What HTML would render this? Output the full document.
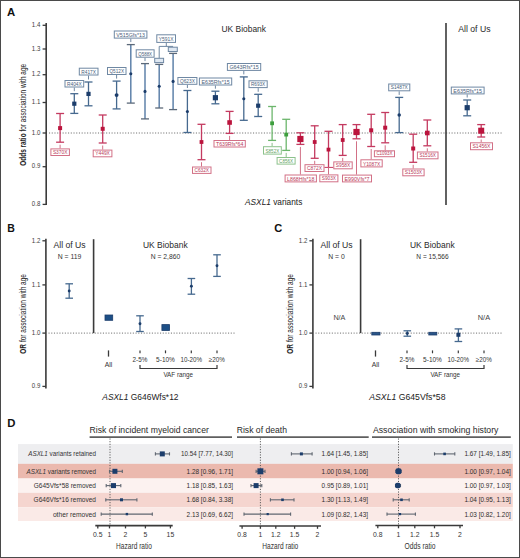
<!DOCTYPE html>
<html><head><meta charset="utf-8"><style>
html,body{margin:0;padding:0;background:#fff;}
svg{display:block;font-family:"Liberation Sans", sans-serif;}
</style></head><body>
<svg width="520" height="558" viewBox="0 0 520 558">
<rect x="0" y="0" width="520" height="558" fill="#fff"/>
<text x="7" y="16.2" font-size="10.5" text-anchor="start" fill="#111" font-weight="bold" textLength="8.2" lengthAdjust="spacingAndGlyphs" >A</text>
<line x1="46.2" y1="23" x2="46.2" y2="205" stroke="#3a3a3a" stroke-width="1.6" />
<line x1="42.6" y1="25.3" x2="46.2" y2="25.3" stroke="#3a3a3a" stroke-width="1.3" />
<text x="40.3" y="27.0" font-size="7.3" text-anchor="end" fill="#3c3c3c" textLength="8.5" lengthAdjust="spacingAndGlyphs" >1.4</text>
<line x1="42.6" y1="49.0" x2="46.2" y2="49.0" stroke="#3a3a3a" stroke-width="1.3" />
<text x="40.3" y="50.7" font-size="7.3" text-anchor="end" fill="#3c3c3c" textLength="8.5" lengthAdjust="spacingAndGlyphs" >1.3</text>
<line x1="42.6" y1="74.7" x2="46.2" y2="74.7" stroke="#3a3a3a" stroke-width="1.3" />
<text x="40.3" y="76.4" font-size="7.3" text-anchor="end" fill="#3c3c3c" textLength="8.5" lengthAdjust="spacingAndGlyphs" >1.2</text>
<line x1="42.6" y1="102.5" x2="46.2" y2="102.5" stroke="#3a3a3a" stroke-width="1.3" />
<text x="40.3" y="104.2" font-size="7.3" text-anchor="end" fill="#3c3c3c" textLength="8.5" lengthAdjust="spacingAndGlyphs" >1.1</text>
<line x1="42.6" y1="133.0" x2="46.2" y2="133.0" stroke="#3a3a3a" stroke-width="1.3" />
<text x="40.3" y="134.7" font-size="7.3" text-anchor="end" fill="#3c3c3c" textLength="8.5" lengthAdjust="spacingAndGlyphs" >1.0</text>
<line x1="42.6" y1="166.7" x2="46.2" y2="166.7" stroke="#3a3a3a" stroke-width="1.3" />
<text x="40.3" y="168.39999999999998" font-size="7.3" text-anchor="end" fill="#3c3c3c" textLength="8.5" lengthAdjust="spacingAndGlyphs" >0.9</text>
<line x1="42.6" y1="204.4" x2="46.2" y2="204.4" stroke="#3a3a3a" stroke-width="1.3" />
<text x="40.3" y="206.1" font-size="7.3" text-anchor="end" fill="#3c3c3c" textLength="8.5" lengthAdjust="spacingAndGlyphs" >0.8</text>
<line x1="49" y1="133" x2="502" y2="133" stroke="#707070" stroke-width="1" stroke-dasharray="1.1 1.62"/>
<line x1="446" y1="23" x2="446" y2="205" stroke="#3a3a3a" stroke-width="1.6" />
<text x="221.5" y="31.6" font-size="8.8" text-anchor="start" fill="#2a2a2a" textLength="44.5" lengthAdjust="spacingAndGlyphs" >UK Biobank</text>
<text x="458.2" y="31.8" font-size="8.8" text-anchor="start" fill="#2a2a2a" textLength="32.3" lengthAdjust="spacingAndGlyphs" >All of Us</text>
<g transform="translate(26.2,165.8) rotate(-90)"><text x="0" y="0" font-size="9" fill="#222" textLength="101.9" lengthAdjust="spacingAndGlyphs"><tspan font-weight="bold">Odds ratio</tspan> for association with age</text></g>
<text x="245" y="205.3" font-size="9" fill="#222" textLength="57.3" lengthAdjust="spacingAndGlyphs"><tspan font-style="italic">ASXL1</tspan> variants</text>
<line x1="74.3" y1="93.7" x2="74.3" y2="113.4" stroke="#46698f" stroke-width="1.3" />
<line x1="70.3" y1="93.7" x2="78.3" y2="93.7" stroke="#46698f" stroke-width="1.3" />
<line x1="70.3" y1="113.4" x2="78.3" y2="113.4" stroke="#46698f" stroke-width="1.3" />
<rect x="72.2" y="101.60000000000001" width="4.2" height="4.2" fill="#1c3d6b" stroke="none" stroke-width="1" />
<line x1="74.3" y1="87.5" x2="74.3" y2="91.2" stroke="#6f88a3" stroke-width="1" />
<rect x="65.0" y="80.5" width="18.700000000000003" height="6.5" fill="#fff" stroke="#6f88a3" stroke-width="1" />
<text x="74.35" y="85.6" font-size="6.2" text-anchor="middle" fill="#48607a" textLength="14.7" lengthAdjust="spacingAndGlyphs" >R404X</text>
<line x1="88.5" y1="82" x2="88.5" y2="105.8" stroke="#46698f" stroke-width="1.3" />
<line x1="84.5" y1="82" x2="92.5" y2="82" stroke="#46698f" stroke-width="1.3" />
<line x1="84.5" y1="105.8" x2="92.5" y2="105.8" stroke="#46698f" stroke-width="1.3" />
<rect x="86.4" y="91.80000000000001" width="4.2" height="4.2" fill="#1c3d6b" stroke="none" stroke-width="1" />
<line x1="88.5" y1="75.5" x2="88.5" y2="79.5" stroke="#6f88a3" stroke-width="1" />
<rect x="79.3" y="68.2" width="18.700000000000003" height="6.799999999999997" fill="#fff" stroke="#6f88a3" stroke-width="1" />
<text x="88.65" y="73.6" font-size="6.2" text-anchor="middle" fill="#48607a" textLength="14.7" lengthAdjust="spacingAndGlyphs" >R417X</text>
<line x1="116.6" y1="81.1" x2="116.6" y2="108.9" stroke="#46698f" stroke-width="1.3" />
<line x1="112.6" y1="81.1" x2="120.6" y2="81.1" stroke="#46698f" stroke-width="1.3" />
<line x1="112.6" y1="108.9" x2="120.6" y2="108.9" stroke="#46698f" stroke-width="1.3" />
<circle cx="116.6" cy="95.1" r="1.95" fill="#1c3d6b"/>
<line x1="116.6" y1="75" x2="116.6" y2="78.6" stroke="#6f88a3" stroke-width="1" />
<rect x="107.5" y="67.5" width="18.5" height="7" fill="#fff" stroke="#6f88a3" stroke-width="1" />
<text x="116.75" y="73.1" font-size="6.2" text-anchor="middle" fill="#48607a" textLength="14.5" lengthAdjust="spacingAndGlyphs" >Q512X</text>
<line x1="130.8" y1="44.6" x2="130.8" y2="103.1" stroke="#5f82aa" stroke-width="1.5" />
<line x1="126.80000000000001" y1="44.6" x2="134.8" y2="44.6" stroke="#5b6878" stroke-width="1.3" />
<line x1="126.80000000000001" y1="103.1" x2="134.8" y2="103.1" stroke="#5b6878" stroke-width="1.3" />
<circle cx="130.8" cy="73.8" r="1.5499999999999998" fill="#1c3d6b"/>
<line x1="130.8" y1="38.6" x2="130.8" y2="42.1" stroke="#6f88a3" stroke-width="1" />
<rect x="114.3" y="31.0" width="32.60000000000001" height="7.100000000000001" fill="#fff" stroke="#6f88a3" stroke-width="1" />
<text x="130.6" y="36.7" font-size="6.2" text-anchor="middle" fill="#48607a" textLength="28.6" lengthAdjust="spacingAndGlyphs" >V515Gfs*13</text>
<line x1="145.0" y1="63.6" x2="145.0" y2="118.9" stroke="#5f82aa" stroke-width="1.5" />
<line x1="141.0" y1="63.6" x2="149.0" y2="63.6" stroke="#5b6878" stroke-width="1.3" />
<line x1="141.0" y1="118.9" x2="149.0" y2="118.9" stroke="#5b6878" stroke-width="1.3" />
<circle cx="145.0" cy="91.4" r="1.5499999999999998" fill="#1c3d6b"/>
<line x1="145.0" y1="57.7" x2="145.0" y2="61.1" stroke="#6f88a3" stroke-width="1" />
<rect x="136.2" y="49.8" width="17.900000000000006" height="7.400000000000006" fill="#fff" stroke="#6f88a3" stroke-width="1" />
<text x="145.14999999999998" y="55.800000000000004" font-size="6.2" text-anchor="middle" fill="#48607a" textLength="13.9" lengthAdjust="spacingAndGlyphs" >Q588X</text>
<line x1="159.2" y1="64.4" x2="159.2" y2="108.0" stroke="#5f82aa" stroke-width="1.5" />
<line x1="155.2" y1="64.4" x2="163.2" y2="64.4" stroke="#5b6878" stroke-width="1.3" />
<line x1="155.2" y1="108.0" x2="163.2" y2="108.0" stroke="#5b6878" stroke-width="1.3" />
<circle cx="159.2" cy="86.2" r="1.5499999999999998" fill="#1c3d6b"/>
<line x1="173.1" y1="53.4" x2="173.1" y2="109.6" stroke="#5f82aa" stroke-width="1.5" />
<line x1="169.1" y1="53.4" x2="177.1" y2="53.4" stroke="#5b6878" stroke-width="1.3" />
<line x1="169.1" y1="109.6" x2="177.1" y2="109.6" stroke="#5b6878" stroke-width="1.3" />
<circle cx="173.1" cy="81.4" r="1.5499999999999998" fill="#1c3d6b"/>
<line x1="187.4" y1="90.5" x2="187.4" y2="132.5" stroke="#46698f" stroke-width="1.3" />
<line x1="183.4" y1="90.5" x2="191.4" y2="90.5" stroke="#46698f" stroke-width="1.3" />
<line x1="183.4" y1="132.5" x2="191.4" y2="132.5" stroke="#46698f" stroke-width="1.3" />
<circle cx="187.4" cy="111.5" r="1.5499999999999998" fill="#1c3d6b"/>
<line x1="187.4" y1="84.8" x2="187.4" y2="88.0" stroke="#6f88a3" stroke-width="1" />
<rect x="177.9" y="77.5" width="19.0" height="6.799999999999997" fill="#fff" stroke="#6f88a3" stroke-width="1" />
<text x="187.4" y="82.89999999999999" font-size="6.2" text-anchor="middle" fill="#48607a" textLength="15.0" lengthAdjust="spacingAndGlyphs" >Q623X</text>
<line x1="215.4" y1="91.2" x2="215.4" y2="103.8" stroke="#46698f" stroke-width="1.3" />
<line x1="211.4" y1="91.2" x2="219.4" y2="91.2" stroke="#46698f" stroke-width="1.3" />
<line x1="211.4" y1="103.8" x2="219.4" y2="103.8" stroke="#46698f" stroke-width="1.3" />
<rect x="212.8" y="95.10000000000001" width="5.2" height="5.2" fill="#1c3d6b" stroke="none" stroke-width="1" />
<line x1="215.4" y1="85.5" x2="215.4" y2="88.7" stroke="#6f88a3" stroke-width="1" />
<rect x="199.4" y="78.0" width="32.29999999999998" height="7.0" fill="#fff" stroke="#6f88a3" stroke-width="1" />
<text x="215.55" y="83.6" font-size="6.2" text-anchor="middle" fill="#48607a" textLength="28.3" lengthAdjust="spacingAndGlyphs" >E635Rfs*15</text>
<line x1="243.8" y1="76.9" x2="243.8" y2="120.3" stroke="#46698f" stroke-width="1.3" />
<line x1="239.8" y1="76.9" x2="247.8" y2="76.9" stroke="#46698f" stroke-width="1.3" />
<line x1="239.8" y1="120.3" x2="247.8" y2="120.3" stroke="#46698f" stroke-width="1.3" />
<circle cx="243.8" cy="98.7" r="1.5499999999999998" fill="#1c3d6b"/>
<line x1="243.8" y1="70.9" x2="243.8" y2="74.4" stroke="#6f88a3" stroke-width="1" />
<rect x="227.4" y="63.5" width="33.29999999999998" height="6.900000000000006" fill="#fff" stroke="#6f88a3" stroke-width="1" />
<text x="244.05" y="69.0" font-size="6.2" text-anchor="middle" fill="#48607a" textLength="29.3" lengthAdjust="spacingAndGlyphs" >G643Rfs*15</text>
<line x1="258.2" y1="94.3" x2="258.2" y2="116.5" stroke="#46698f" stroke-width="1.3" />
<line x1="254.2" y1="94.3" x2="262.2" y2="94.3" stroke="#46698f" stroke-width="1.3" />
<line x1="254.2" y1="116.5" x2="262.2" y2="116.5" stroke="#46698f" stroke-width="1.3" />
<rect x="256.09999999999997" y="103.60000000000001" width="4.2" height="4.2" fill="#1c3d6b" stroke="none" stroke-width="1" />
<line x1="258.2" y1="88.1" x2="258.2" y2="91.8" stroke="#6f88a3" stroke-width="1" />
<rect x="249.0" y="80.8" width="18.19999999999999" height="6.799999999999997" fill="#fff" stroke="#6f88a3" stroke-width="1" />
<text x="258.1" y="86.19999999999999" font-size="6.2" text-anchor="middle" fill="#48607a" textLength="14.2" lengthAdjust="spacingAndGlyphs" >R693X</text>
<line x1="399.2" y1="97.4" x2="399.2" y2="132.6" stroke="#46698f" stroke-width="1.3" />
<line x1="395.2" y1="97.4" x2="403.2" y2="97.4" stroke="#46698f" stroke-width="1.3" />
<line x1="395.2" y1="132.6" x2="403.2" y2="132.6" stroke="#46698f" stroke-width="1.3" />
<circle cx="399.2" cy="114.9" r="1.75" fill="#1c3d6b"/>
<line x1="399.2" y1="91.3" x2="399.2" y2="94.9" stroke="#6f88a3" stroke-width="1" />
<rect x="388.7" y="84.0" width="21.100000000000023" height="6.799999999999997" fill="#fff" stroke="#6f88a3" stroke-width="1" />
<text x="399.25" y="89.39999999999999" font-size="6.2" text-anchor="middle" fill="#48607a" textLength="17.1" lengthAdjust="spacingAndGlyphs" >S1487X</text>
<line x1="467.2" y1="100" x2="467.2" y2="115.8" stroke="#46698f" stroke-width="1.3" />
<line x1="463.2" y1="100" x2="471.2" y2="100" stroke="#46698f" stroke-width="1.3" />
<line x1="463.2" y1="115.8" x2="471.2" y2="115.8" stroke="#46698f" stroke-width="1.3" />
<rect x="464.59999999999997" y="105.10000000000001" width="5.2" height="5.2" fill="#1c3d6b" stroke="none" stroke-width="1" />
<line x1="467.2" y1="94.4" x2="467.2" y2="97.5" stroke="#6f88a3" stroke-width="1" />
<rect x="451.3" y="87.1" width="32.80000000000001" height="6.800000000000011" fill="#fff" stroke="#6f88a3" stroke-width="1" />
<text x="467.70000000000005" y="92.5" font-size="6.2" text-anchor="middle" fill="#48607a" textLength="28.8" lengthAdjust="spacingAndGlyphs" >E635Rfs*15</text>
<line x1="166.3" y1="42.8" x2="166.3" y2="46.4" stroke="#6f88a3" stroke-width="1" />
<line x1="159.2" y1="46.4" x2="173.1" y2="46.4" stroke="#6f88a3" stroke-width="1" />
<line x1="159.2" y1="46.4" x2="159.2" y2="58.3" stroke="#6f88a3" stroke-width="1" />
<rect x="156.8" y="34.8" width="18.69999999999999" height="7.600000000000001" fill="#fff" stroke="#6f88a3" stroke-width="1" />
<text x="166.15" y="41.0" font-size="6.2" text-anchor="middle" fill="#48607a" textLength="14.7" lengthAdjust="spacingAndGlyphs" >Y591X</text>
<rect x="154.7" y="58.3" width="8.9" height="4.3" fill="#dfe8f2" stroke="#6f88a3" stroke-width="1" />
<rect x="168.3" y="47.2" width="9" height="4.3" fill="#dfe8f2" stroke="#6f88a3" stroke-width="1" />
<line x1="60.1" y1="113.5" x2="60.1" y2="142.2" stroke="#c43a60" stroke-width="1.3" />
<line x1="56.1" y1="113.5" x2="64.1" y2="113.5" stroke="#c43a60" stroke-width="1.3" />
<line x1="56.1" y1="142.2" x2="64.1" y2="142.2" stroke="#c43a60" stroke-width="1.3" />
<rect x="58.1" y="126.1" width="4.0" height="4.0" fill="#bb143d" stroke="none" stroke-width="1" />
<line x1="60.1" y1="144.7" x2="60.1" y2="148.4" stroke="#d27086" stroke-width="1" />
<rect x="50.9" y="148.9" width="18.500000000000007" height="6.599999999999994" fill="#fff" stroke="#d27086" stroke-width="1" />
<text x="60.150000000000006" y="154.1" font-size="6.2" text-anchor="middle" fill="#b83a58" textLength="14.5" lengthAdjust="spacingAndGlyphs" >S370X</text>
<line x1="102.7" y1="115" x2="102.7" y2="143.0" stroke="#c43a60" stroke-width="1.3" />
<line x1="98.7" y1="115" x2="106.7" y2="115" stroke="#c43a60" stroke-width="1.3" />
<line x1="98.7" y1="143.0" x2="106.7" y2="143.0" stroke="#c43a60" stroke-width="1.3" />
<rect x="100.7" y="126.80000000000001" width="4.0" height="4.0" fill="#bb143d" stroke="none" stroke-width="1" />
<line x1="102.7" y1="145.5" x2="102.7" y2="149.6" stroke="#d27086" stroke-width="1" />
<rect x="93.2" y="150.1" width="18.700000000000003" height="6.700000000000017" fill="#fff" stroke="#d27086" stroke-width="1" />
<text x="102.55000000000001" y="155.4" font-size="6.2" text-anchor="middle" fill="#b83a58" textLength="14.7" lengthAdjust="spacingAndGlyphs" >Y449X</text>
<line x1="201.5" y1="124.3" x2="201.5" y2="159.7" stroke="#c43a60" stroke-width="1.3" />
<line x1="197.5" y1="124.3" x2="205.5" y2="124.3" stroke="#c43a60" stroke-width="1.3" />
<line x1="197.5" y1="159.7" x2="205.5" y2="159.7" stroke="#c43a60" stroke-width="1.3" />
<rect x="199.6" y="140.1" width="3.8" height="3.8" fill="#bb143d" stroke="none" stroke-width="1" />
<line x1="201.5" y1="162.2" x2="201.5" y2="166.5" stroke="#d27086" stroke-width="1" />
<rect x="192.5" y="167.0" width="18.5" height="6.400000000000006" fill="#fff" stroke="#d27086" stroke-width="1" />
<text x="201.75" y="172.0" font-size="6.2" text-anchor="middle" fill="#b83a58" textLength="14.5" lengthAdjust="spacingAndGlyphs" >C632X</text>
<line x1="229.6" y1="111.4" x2="229.6" y2="133.4" stroke="#c43a60" stroke-width="1.3" />
<line x1="225.6" y1="111.4" x2="233.6" y2="111.4" stroke="#c43a60" stroke-width="1.3" />
<line x1="225.6" y1="133.4" x2="233.6" y2="133.4" stroke="#c43a60" stroke-width="1.3" />
<rect x="227.29999999999998" y="120.2" width="4.6" height="4.6" fill="#bb143d" stroke="none" stroke-width="1" />
<line x1="229.6" y1="135.9" x2="229.6" y2="140" stroke="#d27086" stroke-width="1" />
<rect x="214.0" y="140.5" width="31.30000000000001" height="6.5" fill="#fff" stroke="#d27086" stroke-width="1" />
<text x="229.65" y="145.6" font-size="6.2" text-anchor="middle" fill="#b83a58" textLength="27.3" lengthAdjust="spacingAndGlyphs" >T639Rfs*64</text>
<line x1="300.4" y1="132.8" x2="300.4" y2="144.4" stroke="#c43a60" stroke-width="1.3" />
<line x1="296.4" y1="132.8" x2="304.4" y2="132.8" stroke="#c43a60" stroke-width="1.3" />
<line x1="296.4" y1="144.4" x2="304.4" y2="144.4" stroke="#c43a60" stroke-width="1.3" />
<rect x="297.29999999999995" y="135.9" width="6.2" height="6.2" fill="#bb143d" stroke="none" stroke-width="1" />
<line x1="300.4" y1="146.9" x2="300.4" y2="174.5" stroke="#d27086" stroke-width="1" />
<rect x="285.1" y="175.0" width="31.299999999999955" height="6.900000000000006" fill="#fff" stroke="#d27086" stroke-width="1" />
<text x="300.75" y="180.5" font-size="6.2" text-anchor="middle" fill="#b83a58" textLength="27.3" lengthAdjust="spacingAndGlyphs" >L868Hfs*18</text>
<line x1="314.7" y1="125.8" x2="314.7" y2="158.3" stroke="#c43a60" stroke-width="1.3" />
<line x1="310.7" y1="125.8" x2="318.7" y2="125.8" stroke="#c43a60" stroke-width="1.3" />
<line x1="310.7" y1="158.3" x2="318.7" y2="158.3" stroke="#c43a60" stroke-width="1.3" />
<rect x="312.8" y="140.1" width="3.8" height="3.8" fill="#bb143d" stroke="none" stroke-width="1" />
<line x1="314.7" y1="160.8" x2="314.7" y2="164.2" stroke="#d27086" stroke-width="1" />
<rect x="305.0" y="164.7" width="19.0" height="6.800000000000011" fill="#fff" stroke="#d27086" stroke-width="1" />
<text x="314.5" y="170.1" font-size="6.2" text-anchor="middle" fill="#b83a58" textLength="15.0" lengthAdjust="spacingAndGlyphs" >C872X</text>
<line x1="328.5" y1="131.3" x2="328.5" y2="167.4" stroke="#c43a60" stroke-width="1.3" />
<line x1="324.5" y1="131.3" x2="332.5" y2="131.3" stroke="#c43a60" stroke-width="1.3" />
<line x1="324.5" y1="167.4" x2="333.3" y2="167.4" stroke="#c43a60" stroke-width="1" />
<rect x="326.6" y="147.7" width="3.8" height="3.8" fill="#bb143d" stroke="none" stroke-width="1" />
<line x1="328.5" y1="167.4" x2="328.5" y2="174.4" stroke="#d27086" stroke-width="1" />
<rect x="319.8" y="174.9" width="18.099999999999966" height="6.900000000000006" fill="#fff" stroke="#d27086" stroke-width="1" />
<text x="328.85" y="180.4" font-size="6.2" text-anchor="middle" fill="#b83a58" textLength="14.1" lengthAdjust="spacingAndGlyphs" >S903X</text>
<line x1="342.7" y1="124.6" x2="342.7" y2="155.4" stroke="#c43a60" stroke-width="1.3" />
<line x1="338.7" y1="124.6" x2="346.7" y2="124.6" stroke="#c43a60" stroke-width="1.3" />
<line x1="338.7" y1="155.4" x2="346.7" y2="155.4" stroke="#c43a60" stroke-width="1.3" />
<rect x="340.8" y="138.1" width="3.8" height="3.8" fill="#bb143d" stroke="none" stroke-width="1" />
<line x1="342.7" y1="157.9" x2="342.7" y2="161.4" stroke="#d27086" stroke-width="1" />
<rect x="333.8" y="161.9" width="18.399999999999977" height="6.900000000000006" fill="#fff" stroke="#d27086" stroke-width="1" />
<text x="343.0" y="167.4" font-size="6.2" text-anchor="middle" fill="#b83a58" textLength="14.4" lengthAdjust="spacingAndGlyphs" >S958X</text>
<line x1="356.5" y1="124.6" x2="356.5" y2="138.8" stroke="#c43a60" stroke-width="1.3" />
<line x1="352.5" y1="124.6" x2="360.5" y2="124.6" stroke="#c43a60" stroke-width="1.3" />
<line x1="352.5" y1="138.8" x2="360.5" y2="138.8" stroke="#c43a60" stroke-width="1.3" />
<rect x="353.4" y="128.9" width="6.2" height="6.2" fill="#bb143d" stroke="none" stroke-width="1" />
<line x1="356.5" y1="141.3" x2="356.5" y2="174.6" stroke="#d27086" stroke-width="1" />
<rect x="342.5" y="175.1" width="29" height="6.800000000000011" fill="#fff" stroke="#d27086" stroke-width="1" />
<text x="357.0" y="180.5" font-size="6.2" text-anchor="middle" fill="#b83a58" textLength="25.0" lengthAdjust="spacingAndGlyphs" >E990Vfs*7</text>
<line x1="371.2" y1="114.3" x2="371.2" y2="146.5" stroke="#c43a60" stroke-width="1.3" />
<line x1="367.2" y1="114.3" x2="375.2" y2="114.3" stroke="#c43a60" stroke-width="1.3" />
<line x1="367.2" y1="146.5" x2="375.2" y2="146.5" stroke="#c43a60" stroke-width="1.3" />
<rect x="369.2" y="128.3" width="4.0" height="4.0" fill="#bb143d" stroke="none" stroke-width="1" />
<line x1="371.2" y1="149.0" x2="371.2" y2="159.3" stroke="#d27086" stroke-width="1" />
<rect x="360.9" y="159.8" width="21.30000000000001" height="7.099999999999994" fill="#fff" stroke="#d27086" stroke-width="1" />
<text x="371.54999999999995" y="165.5" font-size="6.2" text-anchor="middle" fill="#b83a58" textLength="17.3" lengthAdjust="spacingAndGlyphs" >Y1087X</text>
<line x1="385.2" y1="112.5" x2="385.2" y2="142.8" stroke="#c43a60" stroke-width="1.3" />
<line x1="381.2" y1="112.5" x2="389.2" y2="112.5" stroke="#c43a60" stroke-width="1.3" />
<line x1="381.2" y1="142.8" x2="389.2" y2="142.8" stroke="#c43a60" stroke-width="1.3" />
<rect x="383.2" y="125.7" width="4.0" height="4.0" fill="#bb143d" stroke="none" stroke-width="1" />
<line x1="385.2" y1="145.3" x2="385.2" y2="150.3" stroke="#d27086" stroke-width="1" />
<rect x="374.4" y="150.8" width="20.100000000000023" height="5.899999999999977" fill="#fff" stroke="#d27086" stroke-width="1" />
<text x="384.45" y="155.29999999999998" font-size="6.2" text-anchor="middle" fill="#b83a58" textLength="16.1" lengthAdjust="spacingAndGlyphs" >C1093X</text>
<line x1="413.2" y1="134.2" x2="413.2" y2="162.3" stroke="#c43a60" stroke-width="1.3" />
<line x1="409.2" y1="134.2" x2="417.2" y2="134.2" stroke="#c43a60" stroke-width="1.3" />
<line x1="409.2" y1="162.3" x2="417.2" y2="162.3" stroke="#c43a60" stroke-width="1.3" />
<rect x="411.2" y="146.5" width="4.0" height="4.0" fill="#bb143d" stroke="none" stroke-width="1" />
<line x1="413.2" y1="164.8" x2="413.2" y2="168.5" stroke="#d27086" stroke-width="1" />
<rect x="402.8" y="169.0" width="21.30000000000001" height="6.800000000000011" fill="#fff" stroke="#d27086" stroke-width="1" />
<text x="413.45000000000005" y="174.4" font-size="6.2" text-anchor="middle" fill="#b83a58" textLength="17.3" lengthAdjust="spacingAndGlyphs" >S1503X</text>
<line x1="427.3" y1="120" x2="427.3" y2="145.8" stroke="#c43a60" stroke-width="1.3" />
<line x1="423.3" y1="120" x2="431.3" y2="120" stroke="#c43a60" stroke-width="1.3" />
<line x1="423.3" y1="145.8" x2="431.3" y2="145.8" stroke="#c43a60" stroke-width="1.3" />
<rect x="425.0" y="130.7" width="4.6" height="4.6" fill="#bb143d" stroke="none" stroke-width="1" />
<line x1="427.3" y1="148.3" x2="427.3" y2="151.5" stroke="#d27086" stroke-width="1" />
<rect x="417.4" y="152.0" width="20.600000000000023" height="6.800000000000011" fill="#fff" stroke="#d27086" stroke-width="1" />
<text x="427.7" y="157.4" font-size="6.2" text-anchor="middle" fill="#b83a58" textLength="16.6" lengthAdjust="spacingAndGlyphs" >S1516X</text>
<line x1="481.2" y1="124.6" x2="481.2" y2="137" stroke="#c43a60" stroke-width="1.3" />
<line x1="477.2" y1="124.6" x2="485.2" y2="124.6" stroke="#c43a60" stroke-width="1.3" />
<line x1="477.2" y1="137" x2="485.2" y2="137" stroke="#c43a60" stroke-width="1.3" />
<rect x="478.2" y="127.69999999999999" width="6.0" height="6.0" fill="#bb143d" stroke="none" stroke-width="1" />
<line x1="481.2" y1="139.5" x2="481.2" y2="142.3" stroke="#d27086" stroke-width="1" />
<rect x="470.5" y="142.8" width="22" height="6.899999999999977" fill="#fff" stroke="#d27086" stroke-width="1" />
<text x="481.5" y="148.29999999999998" font-size="6.2" text-anchor="middle" fill="#b83a58" textLength="18.0" lengthAdjust="spacingAndGlyphs" >S1456X</text>
<line x1="272.1" y1="106.5" x2="272.1" y2="140.4" stroke="#6cb66c" stroke-width="1.3" />
<line x1="268.1" y1="106.5" x2="276.1" y2="106.5" stroke="#6cb66c" stroke-width="1.3" />
<line x1="268.1" y1="140.4" x2="276.1" y2="140.4" stroke="#6cb66c" stroke-width="1.3" />
<rect x="270.20000000000005" y="121.39999999999999" width="3.8" height="3.8" fill="#3e9e3e" stroke="none" stroke-width="1" />
<line x1="272.1" y1="142.9" x2="272.1" y2="146.2" stroke="#8cc28c" stroke-width="1" />
<rect x="263.5" y="146.7" width="17.80000000000001" height="7.400000000000006" fill="#fff" stroke="#8cc28c" stroke-width="1" />
<text x="272.4" y="152.7" font-size="6.2" text-anchor="middle" fill="#5f9f5f" textLength="13.8" lengthAdjust="spacingAndGlyphs" >S852X</text>
<line x1="286.2" y1="119.3" x2="286.2" y2="150.4" stroke="#6cb66c" stroke-width="1.3" />
<line x1="282.2" y1="119.3" x2="290.2" y2="119.3" stroke="#6cb66c" stroke-width="1.3" />
<line x1="282.2" y1="150.4" x2="290.2" y2="150.4" stroke="#6cb66c" stroke-width="1.3" />
<rect x="284.3" y="132.7" width="3.8" height="3.8" fill="#3e9e3e" stroke="none" stroke-width="1" />
<line x1="286.2" y1="152.9" x2="286.2" y2="157" stroke="#8cc28c" stroke-width="1" />
<rect x="277.1" y="157.5" width="18.0" height="6.599999999999994" fill="#fff" stroke="#8cc28c" stroke-width="1" />
<text x="286.1" y="162.7" font-size="6.2" text-anchor="middle" fill="#5f9f5f" textLength="14.0" lengthAdjust="spacingAndGlyphs" >C856X</text>
<text x="7.2" y="232.2" font-size="10.5" text-anchor="start" fill="#111" font-weight="bold" textLength="7.6" lengthAdjust="spacingAndGlyphs" >B</text>
<line x1="45.9" y1="238.8" x2="45.9" y2="388.5" stroke="#3a3a3a" stroke-width="1.6" />
<line x1="42.4" y1="240.8" x2="45.9" y2="240.8" stroke="#3a3a3a" stroke-width="1.3" />
<text x="40.3" y="242.5" font-size="7.3" text-anchor="end" fill="#3c3c3c" textLength="8.5" lengthAdjust="spacingAndGlyphs" >1.2</text>
<line x1="42.4" y1="284.9" x2="45.9" y2="284.9" stroke="#3a3a3a" stroke-width="1.3" />
<text x="40.3" y="286.59999999999997" font-size="7.3" text-anchor="end" fill="#3c3c3c" textLength="8.5" lengthAdjust="spacingAndGlyphs" >1.1</text>
<line x1="42.4" y1="333.1" x2="45.9" y2="333.1" stroke="#3a3a3a" stroke-width="1.3" />
<text x="40.3" y="334.8" font-size="7.3" text-anchor="end" fill="#3c3c3c" textLength="8.5" lengthAdjust="spacingAndGlyphs" >1.0</text>
<line x1="42.4" y1="386.4" x2="45.9" y2="386.4" stroke="#3a3a3a" stroke-width="1.3" />
<text x="40.3" y="388.09999999999997" font-size="7.3" text-anchor="end" fill="#3c3c3c" textLength="8.5" lengthAdjust="spacingAndGlyphs" >0.9</text>
<line x1="48.5" y1="333.1" x2="236" y2="333.1" stroke="#707070" stroke-width="1" stroke-dasharray="1.1 1.62"/>
<line x1="93.6" y1="239.2" x2="93.6" y2="333.1" stroke="#3a3a3a" stroke-width="1.6" />
<text x="53.5" y="248.1" font-size="8.8" text-anchor="start" fill="#2a2a2a" textLength="32.2" lengthAdjust="spacingAndGlyphs" >All of Us</text>
<text x="69.5" y="259.0" font-size="7.2" text-anchor="middle" fill="#333" textLength="23.6" lengthAdjust="spacingAndGlyphs" >N = 119</text>
<text x="142.9" y="248.1" font-size="8.8" text-anchor="start" fill="#2a2a2a" textLength="44.8" lengthAdjust="spacingAndGlyphs" >UK Biobank</text>
<text x="165.5" y="259.0" font-size="7.2" text-anchor="middle" fill="#333" textLength="29.5" lengthAdjust="spacingAndGlyphs" >N = 2,860</text>
<g transform="translate(25.8,353.7) rotate(-90)"><text x="0" y="0" font-size="8.6" fill="#222" textLength="79.7" lengthAdjust="spacingAndGlyphs"><tspan font-weight="bold">OR</tspan> for association with age</text></g>
<line x1="108.5" y1="350.4" x2="108.5" y2="356.6" stroke="#3a3a3a" stroke-width="1.3" />
<line x1="140" y1="350.4" x2="140" y2="353.3" stroke="#3a3a3a" stroke-width="1.2" />
<line x1="165.5" y1="350.4" x2="165.5" y2="353.3" stroke="#3a3a3a" stroke-width="1.2" />
<line x1="191.3" y1="350.4" x2="191.3" y2="353.3" stroke="#3a3a3a" stroke-width="1.2" />
<line x1="217" y1="350.4" x2="217" y2="353.3" stroke="#3a3a3a" stroke-width="1.2" />
<text x="108.6" y="367.3" font-size="7.0" text-anchor="middle" fill="#333" textLength="7.5" lengthAdjust="spacingAndGlyphs" >All</text>
<text x="140" y="362.3" font-size="7.0" text-anchor="middle" fill="#333" textLength="14.8" lengthAdjust="spacingAndGlyphs" >2-5%</text>
<text x="165.5" y="362.3" font-size="7.0" text-anchor="middle" fill="#333" textLength="18.8" lengthAdjust="spacingAndGlyphs" >5-10%</text>
<text x="191.3" y="362.3" font-size="7.0" text-anchor="middle" fill="#333" textLength="21.5" lengthAdjust="spacingAndGlyphs" >10-20%</text>
<text x="216.8" y="362.3" font-size="7.0" text-anchor="middle" fill="#333" textLength="16" lengthAdjust="spacingAndGlyphs" >≥20%</text>
<path d="M140 365 V368.5 H217 V365" fill="none" stroke="#3a3a3a" stroke-width="1.2"/>
<text x="163.4" y="377.4" font-size="7.4" text-anchor="start" fill="#333" textLength="29.6" lengthAdjust="spacingAndGlyphs" >VAF range</text>
<text x="102.3" y="400.4" font-size="9" fill="#222" textLength="76.2" lengthAdjust="spacingAndGlyphs"><tspan font-style="italic">ASXL1</tspan> G646Wfs*12</text>
<line x1="69.2" y1="283.8" x2="69.2" y2="298.2" stroke="#46698f" stroke-width="1.3" />
<line x1="65.4" y1="283.8" x2="73.0" y2="283.8" stroke="#46698f" stroke-width="1.3" />
<line x1="65.4" y1="298.2" x2="73.0" y2="298.2" stroke="#46698f" stroke-width="1.3" />
<circle cx="69.2" cy="291" r="1.45" fill="#1c3d6b"/>
<rect x="105" y="315" width="7.700000000000003" height="5.300000000000011" fill="#1d4f86" stroke="#1c3d6b" stroke-width="0.8" />
<line x1="140" y1="315.8" x2="140" y2="331.5" stroke="#46698f" stroke-width="1.3" />
<line x1="136.2" y1="315.8" x2="143.8" y2="315.8" stroke="#46698f" stroke-width="1.3" />
<line x1="136.2" y1="331.5" x2="143.8" y2="331.5" stroke="#46698f" stroke-width="1.3" />
<circle cx="140" cy="323.8" r="1.45" fill="#1c3d6b"/>
<rect x="161.9" y="324.6" width="7.699999999999989" height="5.899999999999977" fill="#1d4f86" stroke="#1c3d6b" stroke-width="0.8" />
<line x1="191.4" y1="278.5" x2="191.4" y2="294.2" stroke="#46698f" stroke-width="1.3" />
<line x1="187.6" y1="278.5" x2="195.20000000000002" y2="278.5" stroke="#46698f" stroke-width="1.3" />
<line x1="187.6" y1="294.2" x2="195.20000000000002" y2="294.2" stroke="#46698f" stroke-width="1.3" />
<circle cx="191.4" cy="286.2" r="1.45" fill="#1c3d6b"/>
<line x1="217" y1="254.8" x2="217" y2="276.4" stroke="#46698f" stroke-width="1.3" />
<line x1="213.2" y1="254.8" x2="220.8" y2="254.8" stroke="#46698f" stroke-width="1.3" />
<line x1="213.2" y1="276.4" x2="220.8" y2="276.4" stroke="#46698f" stroke-width="1.3" />
<circle cx="217" cy="265.7" r="1.45" fill="#1c3d6b"/>
<text x="274.2" y="232.2" font-size="10.5" text-anchor="start" fill="#111" font-weight="bold" textLength="8" lengthAdjust="spacingAndGlyphs" >C</text>
<line x1="312.9" y1="238.8" x2="312.9" y2="388.5" stroke="#3a3a3a" stroke-width="1.6" />
<line x1="309.4" y1="240.8" x2="312.9" y2="240.8" stroke="#3a3a3a" stroke-width="1.3" />
<text x="307.3" y="242.5" font-size="7.3" text-anchor="end" fill="#3c3c3c" textLength="8.5" lengthAdjust="spacingAndGlyphs" >1.2</text>
<line x1="309.4" y1="284.9" x2="312.9" y2="284.9" stroke="#3a3a3a" stroke-width="1.3" />
<text x="307.3" y="286.59999999999997" font-size="7.3" text-anchor="end" fill="#3c3c3c" textLength="8.5" lengthAdjust="spacingAndGlyphs" >1.1</text>
<line x1="309.4" y1="333.1" x2="312.9" y2="333.1" stroke="#3a3a3a" stroke-width="1.3" />
<text x="307.3" y="334.8" font-size="7.3" text-anchor="end" fill="#3c3c3c" textLength="8.5" lengthAdjust="spacingAndGlyphs" >1.0</text>
<line x1="309.4" y1="386.4" x2="312.9" y2="386.4" stroke="#3a3a3a" stroke-width="1.3" />
<text x="307.3" y="388.09999999999997" font-size="7.3" text-anchor="end" fill="#3c3c3c" textLength="8.5" lengthAdjust="spacingAndGlyphs" >0.9</text>
<line x1="315.5" y1="333.1" x2="503" y2="333.1" stroke="#707070" stroke-width="1" stroke-dasharray="1.1 1.62"/>
<line x1="360.6" y1="239.2" x2="360.6" y2="333.1" stroke="#3a3a3a" stroke-width="1.6" />
<text x="320.5" y="248.1" font-size="8.8" text-anchor="start" fill="#2a2a2a" textLength="32.2" lengthAdjust="spacingAndGlyphs" >All of Us</text>
<text x="336.5" y="259.0" font-size="7.2" text-anchor="middle" fill="#333" textLength="16.5" lengthAdjust="spacingAndGlyphs" >N = 0</text>
<text x="409.9" y="248.1" font-size="8.8" text-anchor="start" fill="#2a2a2a" textLength="44.8" lengthAdjust="spacingAndGlyphs" >UK Biobank</text>
<text x="432.5" y="259.0" font-size="7.2" text-anchor="middle" fill="#333" textLength="32.3" lengthAdjust="spacingAndGlyphs" >N = 15,566</text>
<g transform="translate(292.8,353.7) rotate(-90)"><text x="0" y="0" font-size="8.6" fill="#222" textLength="79.7" lengthAdjust="spacingAndGlyphs"><tspan font-weight="bold">OR</tspan> for association with age</text></g>
<line x1="375.5" y1="350.4" x2="375.5" y2="356.6" stroke="#3a3a3a" stroke-width="1.3" />
<line x1="407" y1="350.4" x2="407" y2="353.3" stroke="#3a3a3a" stroke-width="1.2" />
<line x1="432.5" y1="350.4" x2="432.5" y2="353.3" stroke="#3a3a3a" stroke-width="1.2" />
<line x1="458.3" y1="350.4" x2="458.3" y2="353.3" stroke="#3a3a3a" stroke-width="1.2" />
<line x1="484" y1="350.4" x2="484" y2="353.3" stroke="#3a3a3a" stroke-width="1.2" />
<text x="375.6" y="367.3" font-size="7.0" text-anchor="middle" fill="#333" textLength="7.5" lengthAdjust="spacingAndGlyphs" >All</text>
<text x="407" y="362.3" font-size="7.0" text-anchor="middle" fill="#333" textLength="14.8" lengthAdjust="spacingAndGlyphs" >2-5%</text>
<text x="432.5" y="362.3" font-size="7.0" text-anchor="middle" fill="#333" textLength="18.8" lengthAdjust="spacingAndGlyphs" >5-10%</text>
<text x="458.3" y="362.3" font-size="7.0" text-anchor="middle" fill="#333" textLength="21.5" lengthAdjust="spacingAndGlyphs" >10-20%</text>
<text x="483.8" y="362.3" font-size="7.0" text-anchor="middle" fill="#333" textLength="16" lengthAdjust="spacingAndGlyphs" >≥20%</text>
<path d="M407 365 V368.5 H484 V365" fill="none" stroke="#3a3a3a" stroke-width="1.2"/>
<text x="430.4" y="377.4" font-size="7.4" text-anchor="start" fill="#333" textLength="29.6" lengthAdjust="spacingAndGlyphs" >VAF range</text>
<text x="369.3" y="400.4" font-size="9" fill="#222" textLength="76.2" lengthAdjust="spacingAndGlyphs"><tspan font-style="italic">ASXL1</tspan> G645Vfs*58</text>
<rect x="371.8" y="332.3" width="8.200000000000003" height="2.6999999999999886" fill="#2a5588" stroke="#1c3d6b" stroke-width="0.8" />
<line x1="407.3" y1="330.8" x2="407.3" y2="336.2" stroke="#46698f" stroke-width="1.3" />
<line x1="403.5" y1="330.8" x2="411.1" y2="330.8" stroke="#46698f" stroke-width="1.3" />
<line x1="403.5" y1="336.2" x2="411.1" y2="336.2" stroke="#46698f" stroke-width="1.3" />
<circle cx="407.3" cy="333.5" r="1.45" fill="#1c3d6b"/>
<rect x="428.8" y="332.3" width="8.0" height="2.6999999999999886" fill="#2a5588" stroke="#1c3d6b" stroke-width="0.8" />
<line x1="458.4" y1="328.9" x2="458.4" y2="341.5" stroke="#46698f" stroke-width="1.3" />
<line x1="454.59999999999997" y1="328.9" x2="462.2" y2="328.9" stroke="#46698f" stroke-width="1.3" />
<line x1="454.59999999999997" y1="341.5" x2="462.2" y2="341.5" stroke="#46698f" stroke-width="1.3" />
<rect x="456.4" y="332.8" width="4" height="4" fill="#1c3d6b" stroke="none" stroke-width="1" />
<text x="339.4" y="319.8" font-size="7.2" text-anchor="middle" fill="#444" textLength="12" lengthAdjust="spacingAndGlyphs" >N/A</text>
<text x="483.9" y="319.8" font-size="7.2" text-anchor="middle" fill="#444" textLength="12.3" lengthAdjust="spacingAndGlyphs" >N/A</text>
<text x="7.2" y="426.5" font-size="10.5" text-anchor="start" fill="#111" font-weight="bold" textLength="8.2" lengthAdjust="spacingAndGlyphs" >D</text>
<rect x="18" y="444.1" width="494.8" height="19.69999999999999" fill="#eeeef0" stroke="none" stroke-width="1" />
<rect x="18" y="463.8" width="494.8" height="14.699999999999989" fill="#ebb9ae" stroke="none" stroke-width="1" />
<rect x="18" y="478.5" width="494.8" height="14.300000000000011" fill="#fcf2f0" stroke="none" stroke-width="1" />
<rect x="18" y="492.8" width="494.8" height="14.399999999999977" fill="#f5d5cf" stroke="none" stroke-width="1" />
<rect x="18" y="507.2" width="494.8" height="13.800000000000011" fill="#faeae7" stroke="none" stroke-width="1" />
<text x="89.6" y="433.2" font-size="9.4" text-anchor="start" fill="#2a2a2a" textLength="119.3" lengthAdjust="spacingAndGlyphs" >Risk of incident myeloid cancer</text>
<line x1="89.6" y1="437.1" x2="232" y2="437.1" stroke="#5f5f5f" stroke-width="1.7" />
<text x="236.7" y="433.2" font-size="9.4" text-anchor="start" fill="#2a2a2a" textLength="50.3" lengthAdjust="spacingAndGlyphs" >Risk of death</text>
<line x1="237" y1="437.1" x2="368.7" y2="437.1" stroke="#5f5f5f" stroke-width="1.7" />
<text x="372.9" y="433.2" font-size="9.4" text-anchor="start" fill="#2a2a2a" textLength="125.6" lengthAdjust="spacingAndGlyphs" >Association with smoking history</text>
<line x1="372" y1="437.1" x2="510.8" y2="437.1" stroke="#5f5f5f" stroke-width="1.7" />
<text x="96" y="456.29999999999995" font-size="7.0" text-anchor="end" fill="#333" textLength="67.7" lengthAdjust="spacingAndGlyphs"><tspan font-style="italic">ASXL1</tspan> variants retained</text>
<text x="96" y="473.7" font-size="7.0" text-anchor="end" fill="#333" textLength="69.5" lengthAdjust="spacingAndGlyphs"><tspan font-style="italic">ASXL1</tspan> variants removed</text>
<text x="96" y="488.0" font-size="7.0" text-anchor="end" fill="#333" textLength="62.2" lengthAdjust="spacingAndGlyphs">G645Vfs*58 removed</text>
<text x="96" y="502.2" font-size="7.0" text-anchor="end" fill="#333" textLength="62.4" lengthAdjust="spacingAndGlyphs">G646Vfs*16 removed</text>
<text x="96" y="516.5" font-size="7.0" text-anchor="end" fill="#333" textLength="43.1" lengthAdjust="spacingAndGlyphs">other removed</text>
<line x1="110" y1="438.5" x2="110" y2="526" stroke="#555" stroke-width="1" stroke-dasharray="1.1 1.55"/>
<line x1="260.4" y1="438.5" x2="260.4" y2="526" stroke="#555" stroke-width="1" stroke-dasharray="1.1 1.55"/>
<line x1="398.5" y1="438.5" x2="398.5" y2="526" stroke="#555" stroke-width="1" stroke-dasharray="1.1 1.55"/>
<line x1="155.4" y1="453.9" x2="169.5" y2="453.9" stroke="#5f6670" stroke-width="1.1" />
<line x1="155.4" y1="452.29999999999995" x2="155.4" y2="455.5" stroke="#5f6670" stroke-width="1.1" />
<line x1="169.5" y1="452.29999999999995" x2="169.5" y2="455.5" stroke="#5f6670" stroke-width="1.1" />
<rect x="159.8" y="451.4" width="5" height="5" fill="#1c3d6b" stroke="none" stroke-width="1" />
<text x="233" y="456.4" font-size="6.9" text-anchor="end" fill="#2e2e2e" textLength="51.9" lengthAdjust="spacingAndGlyphs" >10.54 [7.77, 14.30]</text>
<line x1="109.5" y1="471.3" x2="122.3" y2="471.3" stroke="#5f6670" stroke-width="1.1" />
<line x1="109.5" y1="469.7" x2="109.5" y2="472.90000000000003" stroke="#5f6670" stroke-width="1.1" />
<line x1="122.3" y1="469.7" x2="122.3" y2="472.90000000000003" stroke="#5f6670" stroke-width="1.1" />
<rect x="112.4" y="468.8" width="5" height="5" fill="#1c3d6b" stroke="none" stroke-width="1" />
<text x="233" y="473.8" font-size="6.9" text-anchor="end" fill="#2e2e2e" textLength="46.4" lengthAdjust="spacingAndGlyphs" >1.28 [0.96, 1.71]</text>
<line x1="106.2" y1="485.6" x2="120.8" y2="485.6" stroke="#5f6670" stroke-width="1.1" />
<line x1="106.2" y1="484.0" x2="106.2" y2="487.20000000000005" stroke="#5f6670" stroke-width="1.1" />
<line x1="120.8" y1="484.0" x2="120.8" y2="487.20000000000005" stroke="#5f6670" stroke-width="1.1" />
<rect x="111.0" y="483.1" width="5" height="5" fill="#1c3d6b" stroke="none" stroke-width="1" />
<text x="233" y="488.1" font-size="6.9" text-anchor="end" fill="#2e2e2e" textLength="46.4" lengthAdjust="spacingAndGlyphs" >1.18 [0.85, 1.63]</text>
<line x1="105.8" y1="499.8" x2="136.9" y2="499.8" stroke="#5f6670" stroke-width="1.1" />
<line x1="105.8" y1="498.2" x2="105.8" y2="501.40000000000003" stroke="#5f6670" stroke-width="1.1" />
<line x1="136.9" y1="498.2" x2="136.9" y2="501.40000000000003" stroke="#5f6670" stroke-width="1.1" />
<rect x="120.0" y="498.3" width="3" height="3" fill="#1c3d6b" stroke="none" stroke-width="1" />
<text x="233" y="502.3" font-size="6.9" text-anchor="end" fill="#2e2e2e" textLength="46.4" lengthAdjust="spacingAndGlyphs" >1.68 [0.84, 3.38]</text>
<line x1="101.2" y1="514.1" x2="152.3" y2="514.1" stroke="#5f6670" stroke-width="1.1" />
<line x1="101.2" y1="512.5" x2="101.2" y2="515.7" stroke="#5f6670" stroke-width="1.1" />
<line x1="152.3" y1="512.5" x2="152.3" y2="515.7" stroke="#5f6670" stroke-width="1.1" />
<rect x="125.7" y="512.9" width="2.4" height="2.4" fill="#1c3d6b" stroke="none" stroke-width="1" />
<text x="233" y="516.6" font-size="6.9" text-anchor="end" fill="#2e2e2e" textLength="46.4" lengthAdjust="spacingAndGlyphs" >2.13 [0.69, 6.62]</text>
<line x1="291.4" y1="453.9" x2="312.1" y2="453.9" stroke="#5f6670" stroke-width="1.1" />
<line x1="291.4" y1="452.29999999999995" x2="291.4" y2="455.5" stroke="#5f6670" stroke-width="1.1" />
<line x1="312.1" y1="452.29999999999995" x2="312.1" y2="455.5" stroke="#5f6670" stroke-width="1.1" />
<rect x="299.9" y="452.4" width="3" height="3" fill="#1c3d6b" stroke="none" stroke-width="1" />
<text x="368" y="456.4" font-size="6.9" text-anchor="end" fill="#2e2e2e" textLength="46.4" lengthAdjust="spacingAndGlyphs" >1.64 [1.45, 1.85]</text>
<line x1="256.1" y1="471.3" x2="265" y2="471.3" stroke="#5f6670" stroke-width="1.1" />
<line x1="256.1" y1="469.7" x2="256.1" y2="472.90000000000003" stroke="#5f6670" stroke-width="1.1" />
<line x1="265" y1="469.7" x2="265" y2="472.90000000000003" stroke="#5f6670" stroke-width="1.1" />
<rect x="257.4" y="468.3" width="6" height="6" fill="#1c3d6b" stroke="none" stroke-width="1" />
<text x="368" y="473.8" font-size="6.9" text-anchor="end" fill="#2e2e2e" textLength="46.4" lengthAdjust="spacingAndGlyphs" >1.00 [0.94, 1.06]</text>
<line x1="251" y1="485.6" x2="261.8" y2="485.6" stroke="#5f6670" stroke-width="1.1" />
<line x1="251" y1="484.0" x2="251" y2="487.20000000000005" stroke="#5f6670" stroke-width="1.1" />
<line x1="261.8" y1="484.0" x2="261.8" y2="487.20000000000005" stroke="#5f6670" stroke-width="1.1" />
<rect x="253.60000000000002" y="483.1" width="5" height="5" fill="#1c3d6b" stroke="none" stroke-width="1" />
<text x="368" y="488.1" font-size="6.9" text-anchor="end" fill="#2e2e2e" textLength="46.4" lengthAdjust="spacingAndGlyphs" >0.95 [0.89, 1.01]</text>
<line x1="270.4" y1="499.8" x2="294" y2="499.8" stroke="#5f6670" stroke-width="1.1" />
<line x1="270.4" y1="498.2" x2="270.4" y2="501.40000000000003" stroke="#5f6670" stroke-width="1.1" />
<line x1="294" y1="498.2" x2="294" y2="501.40000000000003" stroke="#5f6670" stroke-width="1.1" />
<rect x="281.2" y="498.5" width="2.6" height="2.6" fill="#1c3d6b" stroke="none" stroke-width="1" />
<text x="368" y="502.3" font-size="6.9" text-anchor="end" fill="#2e2e2e" textLength="46.4" lengthAdjust="spacingAndGlyphs" >1.30 [1.13, 1.49]</text>
<line x1="244" y1="514.1" x2="290.6" y2="514.1" stroke="#5f6670" stroke-width="1.1" />
<line x1="244" y1="512.5" x2="244" y2="515.7" stroke="#5f6670" stroke-width="1.1" />
<line x1="290.6" y1="512.5" x2="290.6" y2="515.7" stroke="#5f6670" stroke-width="1.1" />
<rect x="266.59999999999997" y="513.0" width="2.2" height="2.2" fill="#1c3d6b" stroke="none" stroke-width="1" />
<text x="368" y="516.6" font-size="6.9" text-anchor="end" fill="#2e2e2e" textLength="46.4" lengthAdjust="spacingAndGlyphs" >1.09 [0.82, 1.43]</text>
<line x1="434.5" y1="453.9" x2="454.8" y2="453.9" stroke="#5f6670" stroke-width="1.1" />
<line x1="434.5" y1="452.29999999999995" x2="434.5" y2="455.5" stroke="#5f6670" stroke-width="1.1" />
<line x1="454.8" y1="452.29999999999995" x2="454.8" y2="455.5" stroke="#5f6670" stroke-width="1.1" />
<rect x="443.3" y="452.59999999999997" width="2.6" height="2.6" fill="#1c3d6b" stroke="none" stroke-width="1" />
<text x="510.8" y="456.4" font-size="6.9" text-anchor="end" fill="#2e2e2e" textLength="46.4" lengthAdjust="spacingAndGlyphs" >1.67 [1.49, 1.85]</text>
<line x1="396" y1="471.3" x2="401" y2="471.3" stroke="#5f6670" stroke-width="1.1" />
<line x1="396" y1="469.7" x2="396" y2="472.90000000000003" stroke="#5f6670" stroke-width="1.1" />
<line x1="401" y1="469.7" x2="401" y2="472.90000000000003" stroke="#5f6670" stroke-width="1.1" />
<rect x="395.5" y="468.3" width="6" height="6" fill="#1c3d6b" stroke="none" stroke-width="1" rx="2"/>
<text x="510.8" y="473.8" font-size="6.9" text-anchor="end" fill="#2e2e2e" textLength="46.4" lengthAdjust="spacingAndGlyphs" >1.00 [0.97, 1.04]</text>
<line x1="395.5" y1="485.6" x2="400.5" y2="485.6" stroke="#5f6670" stroke-width="1.1" />
<line x1="395.5" y1="484.0" x2="395.5" y2="487.20000000000005" stroke="#5f6670" stroke-width="1.1" />
<line x1="400.5" y1="484.0" x2="400.5" y2="487.20000000000005" stroke="#5f6670" stroke-width="1.1" />
<rect x="395.05" y="482.85" width="5.5" height="5.5" fill="#1c3d6b" stroke="none" stroke-width="1" rx="2"/>
<text x="510.8" y="488.1" font-size="6.9" text-anchor="end" fill="#2e2e2e" textLength="46.4" lengthAdjust="spacingAndGlyphs" >1.00 [0.97, 1.03]</text>
<line x1="393.2" y1="499.8" x2="409.2" y2="499.8" stroke="#5f6670" stroke-width="1.1" />
<line x1="393.2" y1="498.2" x2="393.2" y2="501.40000000000003" stroke="#5f6670" stroke-width="1.1" />
<line x1="409.2" y1="498.2" x2="409.2" y2="501.40000000000003" stroke="#5f6670" stroke-width="1.1" />
<rect x="400.2" y="498.5" width="2.6" height="2.6" fill="#1c3d6b" stroke="none" stroke-width="1" />
<text x="510.8" y="502.3" font-size="6.9" text-anchor="end" fill="#2e2e2e" textLength="46.4" lengthAdjust="spacingAndGlyphs" >1.04 [0.95, 1.13]</text>
<line x1="387" y1="514.1" x2="415.4" y2="514.1" stroke="#5f6670" stroke-width="1.1" />
<line x1="387" y1="512.5" x2="387" y2="515.7" stroke="#5f6670" stroke-width="1.1" />
<line x1="415.4" y1="512.5" x2="415.4" y2="515.7" stroke="#5f6670" stroke-width="1.1" />
<rect x="398.9" y="513.0" width="2.2" height="2.2" fill="#1c3d6b" stroke="none" stroke-width="1" />
<text x="510.8" y="516.6" font-size="6.9" text-anchor="end" fill="#2e2e2e" textLength="46.4" lengthAdjust="spacingAndGlyphs" >1.03 [0.82, 1.20]</text>
<line x1="95.3" y1="525.6" x2="172.7" y2="525.6" stroke="#3a3a3a" stroke-width="1.6" />
<line x1="97.8" y1="525.6" x2="97.8" y2="528.4" stroke="#3a3a3a" stroke-width="1.3" />
<text x="97.8" y="537.3" font-size="6.8" text-anchor="middle" fill="#333" >0.5</text>
<line x1="109.5" y1="525.6" x2="109.5" y2="528.4" stroke="#3a3a3a" stroke-width="1.3" />
<text x="109.5" y="537.3" font-size="6.8" text-anchor="middle" fill="#333" >1</text>
<line x1="125.5" y1="525.6" x2="125.5" y2="528.4" stroke="#3a3a3a" stroke-width="1.3" />
<text x="125.5" y="537.3" font-size="6.8" text-anchor="middle" fill="#333" >2</text>
<line x1="145.4" y1="525.6" x2="145.4" y2="528.4" stroke="#3a3a3a" stroke-width="1.3" />
<text x="145.4" y="537.3" font-size="6.8" text-anchor="middle" fill="#333" >5</text>
<line x1="170.4" y1="525.6" x2="170.4" y2="528.4" stroke="#3a3a3a" stroke-width="1.3" />
<text x="170.4" y="537.3" font-size="6.8" text-anchor="middle" fill="#333" >15</text>
<text x="134" y="549.2" font-size="8.6" text-anchor="middle" fill="#333" textLength="36" lengthAdjust="spacingAndGlyphs" >Hazard ratio</text>
<line x1="239.4" y1="526" x2="321" y2="526" stroke="#3a3a3a" stroke-width="1.6" />
<line x1="242.1" y1="526" x2="242.1" y2="528.8" stroke="#3a3a3a" stroke-width="1.3" />
<text x="242.1" y="537.3" font-size="6.8" text-anchor="middle" fill="#333" >0.8</text>
<line x1="260.4" y1="526" x2="260.4" y2="528.8" stroke="#3a3a3a" stroke-width="1.3" />
<text x="260.4" y="537.3" font-size="6.8" text-anchor="middle" fill="#333" >1</text>
<line x1="275.8" y1="526" x2="275.8" y2="528.8" stroke="#3a3a3a" stroke-width="1.3" />
<text x="275.8" y="537.3" font-size="6.8" text-anchor="middle" fill="#333" >1.2</text>
<line x1="294.6" y1="526" x2="294.6" y2="528.8" stroke="#3a3a3a" stroke-width="1.3" />
<text x="294.6" y="537.3" font-size="6.8" text-anchor="middle" fill="#333" >1.5</text>
<line x1="317.5" y1="526" x2="317.5" y2="528.8" stroke="#3a3a3a" stroke-width="1.3" />
<text x="317.5" y="537.3" font-size="6.8" text-anchor="middle" fill="#333" >2</text>
<text x="280.3" y="549.2" font-size="8.6" text-anchor="middle" fill="#333" textLength="36" lengthAdjust="spacingAndGlyphs" >Hazard ratio</text>
<line x1="375.4" y1="525.5" x2="463" y2="525.5" stroke="#3a3a3a" stroke-width="1.6" />
<line x1="377.8" y1="525.5" x2="377.8" y2="528.3" stroke="#3a3a3a" stroke-width="1.3" />
<text x="377.8" y="537.3" font-size="6.8" text-anchor="middle" fill="#333" >0.8</text>
<line x1="398.5" y1="525.5" x2="398.5" y2="528.3" stroke="#3a3a3a" stroke-width="1.3" />
<text x="398.5" y="537.3" font-size="6.8" text-anchor="middle" fill="#333" >1</text>
<line x1="414.8" y1="525.5" x2="414.8" y2="528.3" stroke="#3a3a3a" stroke-width="1.3" />
<text x="414.8" y="537.3" font-size="6.8" text-anchor="middle" fill="#333" >1.2</text>
<line x1="434.5" y1="525.5" x2="434.5" y2="528.3" stroke="#3a3a3a" stroke-width="1.3" />
<text x="434.5" y="537.3" font-size="6.8" text-anchor="middle" fill="#333" >1.5</text>
<line x1="460" y1="525.5" x2="460" y2="528.3" stroke="#3a3a3a" stroke-width="1.3" />
<text x="460" y="537.3" font-size="6.8" text-anchor="middle" fill="#333" >2</text>
<text x="420" y="549.2" font-size="8.6" text-anchor="middle" fill="#333" textLength="31" lengthAdjust="spacingAndGlyphs" >Odds ratio</text>
<rect x="0.5" y="0.5" width="519" height="557" fill="none" stroke="#4a4a4a" stroke-width="1"/>
</svg>
</body></html>
